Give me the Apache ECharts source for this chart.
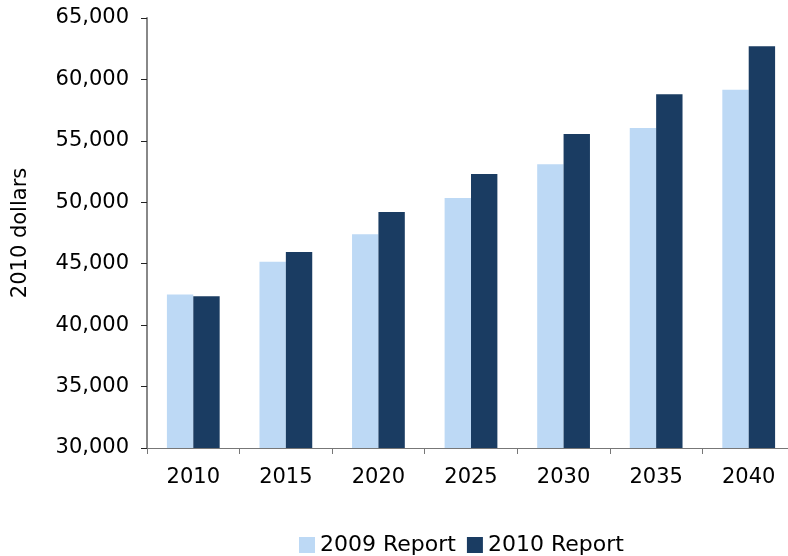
<!DOCTYPE html>
<html>
<head>
<meta charset="utf-8">
<script src="https://cdn.jsdelivr.net/npm/echarts@6/dist/echarts.min.js"></script>
<style>
  html, body { margin: 0; padding: 0; background: #fff; overflow: hidden; }
  #main { width: 795px; height: 556px; }
</style>
</head>
<body>
<div id="main"></div>
<script>
var years = ['2010', '2015', '2020', '2025', '2030', '2035', '2040'];
var report2009 = [42500, 45150, 47400, 50350, 53100, 56050, 59150];
var report2010 = [42350, 45950, 49200, 52300, 55550, 58800, 62700];

var font = 'DejaVu Sans, Verdana, sans-serif';
var chart = echarts.init(document.getElementById('main'));

// the plot area runs slightly past the right edge of the window, as in the original
var option = {
  animation: false,
  grid: { left: 147, top: 18, bottom: 108, right: 0, containLabel: false },
  legend: {
    left: 299,
    top: 534,
    padding: 0,
    itemWidth: 16,
    itemHeight: 16,
    itemGap: 11,
    icon: 'rect',
    textStyle: { fontFamily: font, fontSize: 22, color: '#000' },
    data: ['2009 Report', '2010 Report']
  },
  xAxis: {
    type: 'category',
    data: years,
    axisLine: { lineStyle: { color: '#777', width: 1 } },
    axisTick: { show: true, length: 6, lineStyle: { color: '#777' } },
    axisLabel: { fontFamily: font, fontSize: 21, color: '#000', margin: 19 }
  },
  yAxis: {
    type: 'value',
    min: 30000,
    max: 65000,
    interval: 5000,
    name: '2010 dollars',
    nameLocation: 'middle',
    nameGap: 116,
    nameTextStyle: { fontFamily: font, fontSize: 21, color: '#000' },
    splitLine: { show: false },
    axisLine: { show: true, lineStyle: { color: '#888', width: 2 } },
    axisTick: { show: true, length: 6, lineStyle: { color: '#222' } },
    axisLabel: {
      fontFamily: font, fontSize: 21, color: '#000', margin: 18,
      formatter: function (v) { return v.toLocaleString('en-US'); }
    }
  },
  series: [
    {
      name: '2009 Report',
      type: 'bar',
      data: report2009,
      barGap: '0%',
      barCategoryGap: '43%',
      itemStyle: { color: '#BDD9F5' }
    },
    {
      name: '2010 Report',
      type: 'bar',
      data: report2010,
      barGap: '0%',
      barCategoryGap: '43%',
      itemStyle: { color: '#1A3C62' }
    }
  ]
};
chart.setOption(option);
</script>
</body>
</html>
